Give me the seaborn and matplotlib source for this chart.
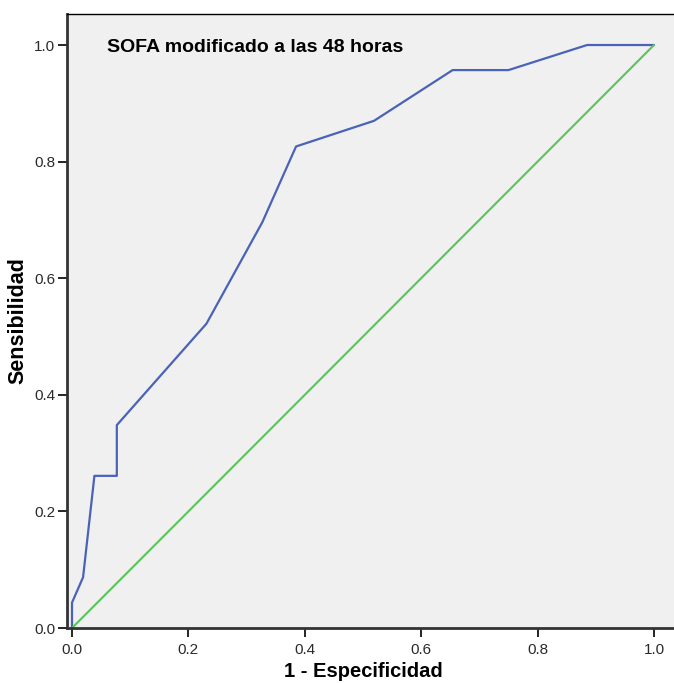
import matplotlib
matplotlib.use('Agg')
import matplotlib.pyplot as plt
import seaborn as sns
import pandas as pd

# curva ROC
fpr = [0.0, 0.0, 0.019, 0.0385, 0.077, 0.077, 0.231, 0.327, 0.385, 0.519, 0.654, 0.75, 0.885, 1.0]
tpr = [0.0, 0.0435, 0.087, 0.261, 0.261, 0.348, 0.522, 0.696, 0.826, 0.870, 0.957, 0.957, 1.0, 1.0]
ref = [0.0, 1.0]
ticks = [0, 0.2, 0.4, 0.6, 0.8, 1.0]
tick_labels = ['0.0', '0.2', '0.4', '0.6', '0.8', '1.0']
titulo = 'SOFA modificado a las 48 horas'

sns.set_style('ticks')
plt.rcParams['font.family'] = ['Liberation Sans', 'DejaVu Sans']

fig = plt.figure(figsize=(6.74, 6.83), dpi=100)
ax = fig.add_axes([67 / 674, 55 / 683, 607 / 674, 614 / 683])
ax.set_facecolor('#f0f0f0')

df = pd.DataFrame({'x': fpr, 'y': tpr})
sns.lineplot(data=df, x='x', y='y', sort=False, estimator=None, color='#4a62b8', lw=1.6, ax=ax)
sns.lineplot(x=ref, y=ref, sort=False, estimator=None, color='#5ac45a', lw=1.5, ax=ax)

ax.set_xlim(-0.0086, 1.0344)
ax.set_ylim(0, 1.0532)
ax.set_xticks(ticks)
ax.set_yticks(ticks)
ax.set_xticklabels(tick_labels)
ax.set_yticklabels(tick_labels)
ax.tick_params(direction='out', length=6.5, width=1.2, color='black', labelsize=11, labelcolor='#2a2a2a')
ax.tick_params(axis='x', pad=4)
ax.tick_params(axis='y', pad=2)

for s in ['left', 'bottom']:
    ax.spines[s].set_linewidth(2)
    ax.spines[s].set_color('#333333')
ax.spines['top'].set_linewidth(1)
ax.spines['top'].set_color('black')
ax.spines['right'].set_visible(False)

ax.set_xlabel('1 - Especificidad', fontsize=14.5, fontweight='bold', color='black', labelpad=4)
ax.set_ylabel('Sensibilidad', fontsize=15.5, fontweight='bold', color='black', labelpad=4)
# etiqueta x centrada sobre el rango 0-1
ax.xaxis.set_label_coords(0.488, -0.055)
ax.text(0.066, 0.946, titulo, transform=ax.transAxes, fontsize=14, fontweight='bold',
        color='black', va='center')

plt.savefig('out.png', dpi=100)
